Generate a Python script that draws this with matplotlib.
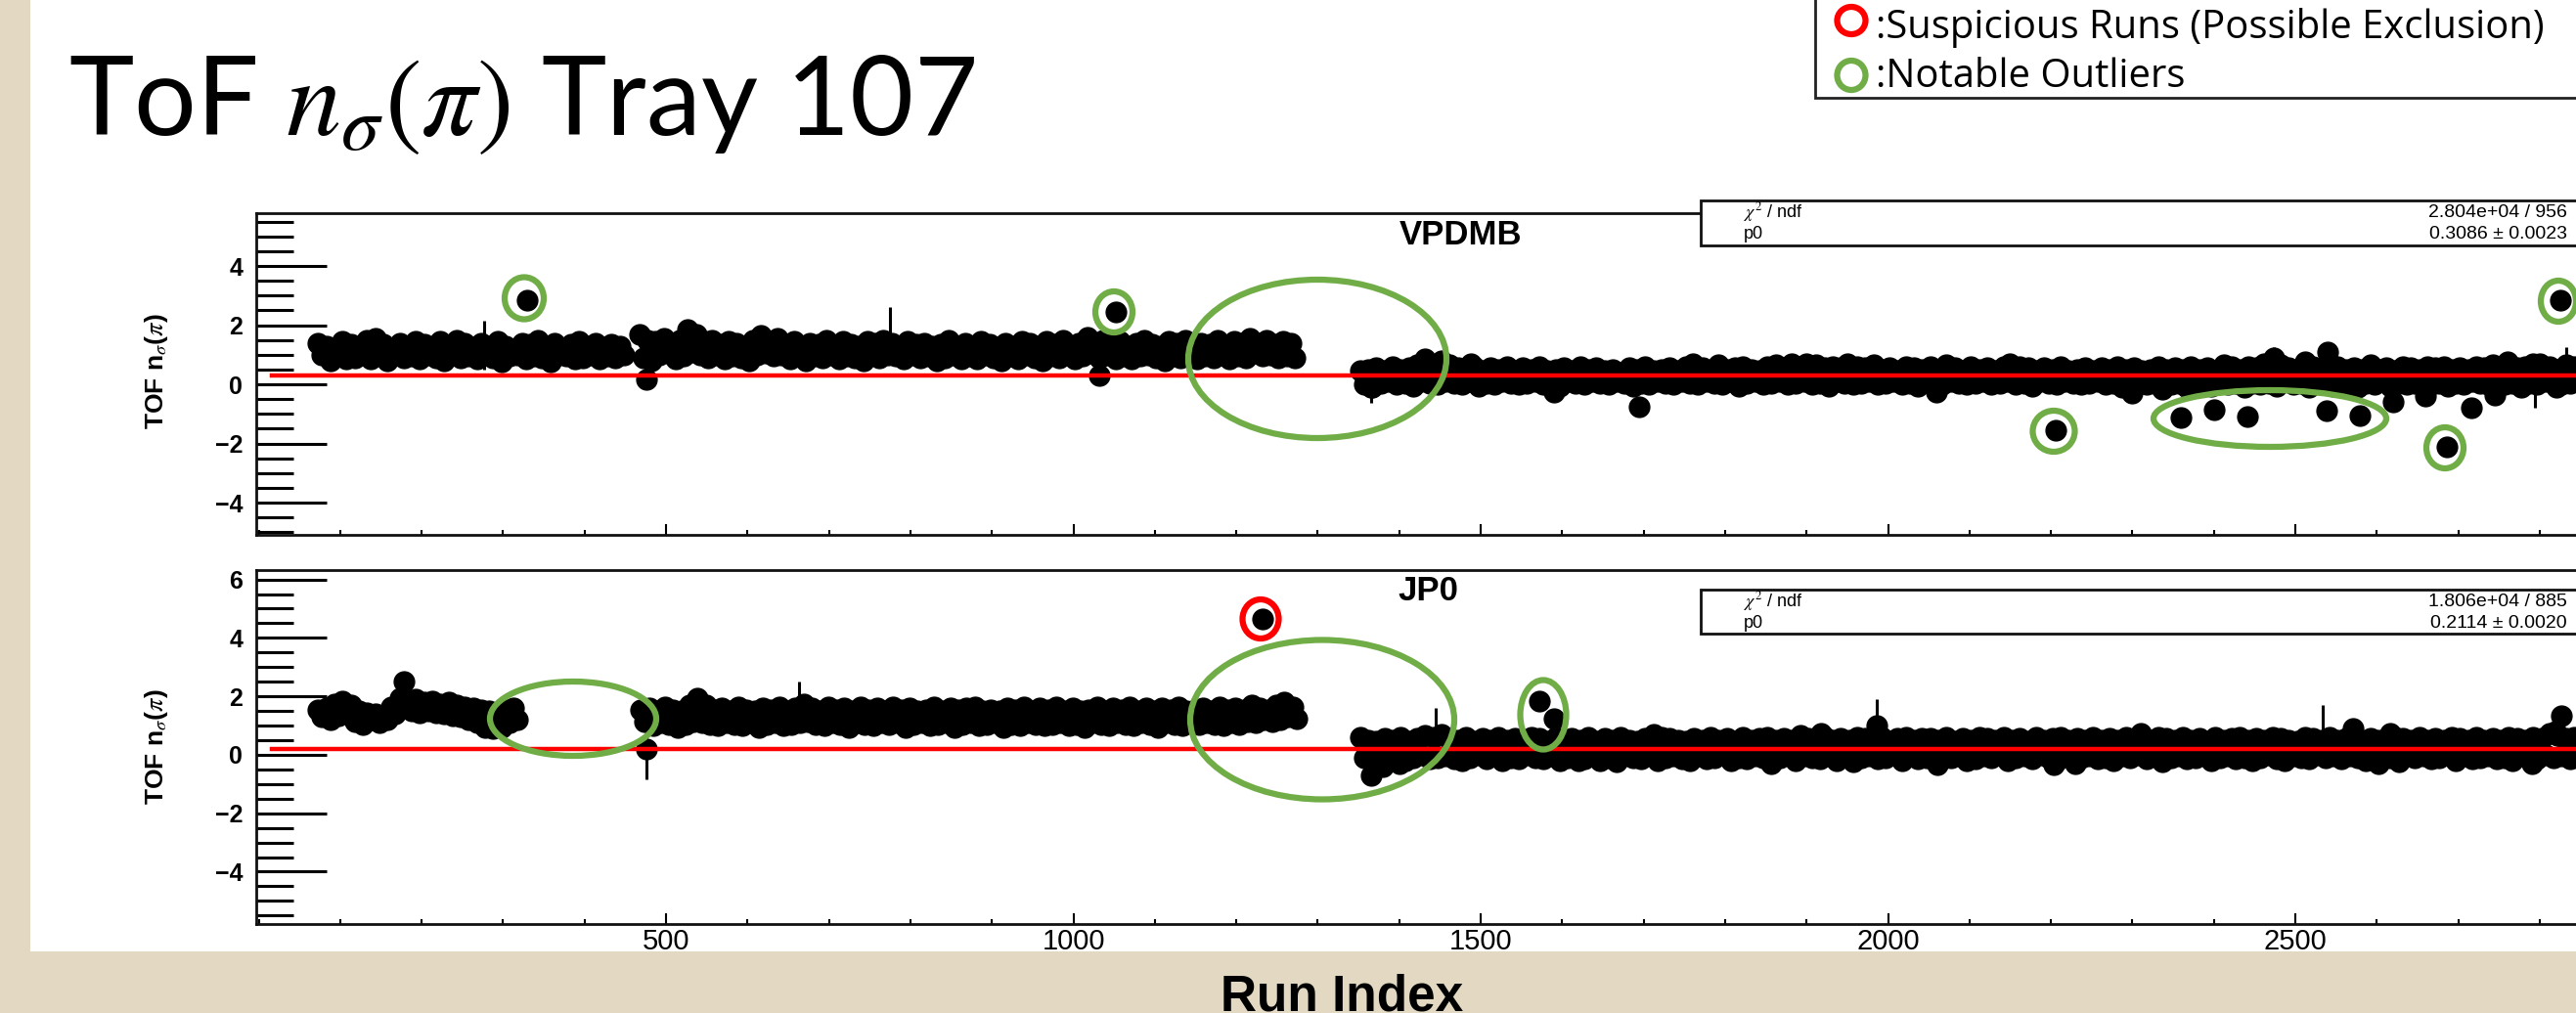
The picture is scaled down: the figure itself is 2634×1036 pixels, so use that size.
import numpy as np
import matplotlib
matplotlib.use("Agg")
import matplotlib.pyplot as plt
from matplotlib.patches import Ellipse, Rectangle
from matplotlib.ticker import MultipleLocator, FixedLocator

plt.rcParams['font.family'] = ['Liberation Sans', 'DejaVu Sans']

# ---------------- data ----------------
step = 10          # run-index spacing of the readings in each list
# Two readings per run bin: upper part ("hi") and lower part ("lo", offset half a bin) of the band
# VPDMB panel
top_seg1_start = 73
top_seg1_hi = [1.4, 1.3, 1.2, 1.45, 1.35, 1.25, 1.5, 1.55, 1.35, 1.2,
               1.4, 1.3, 1.45, 1.35, 1.25, 1.45, 1.3, 1.5, 1.4, 1.25,
               1.4, 1.3, 1.45, 1.3, 1.2, 1.4, 1.35, 1.5, 1.3, 1.4,
               1.2, 1.35, 1.45, 1.3, 1.4, 1.25, 1.35, 1.3]
top_seg1_lo = [1.0, 0.8, 0.95, 0.85, 0.9, 1.05, 0.85, 1.0, 0.8, 1.05,
               0.9, 0.95, 0.85, 1.0, 0.9, 0.8, 1.0, 0.9, 0.95, 0.85,
               1.0, 0.9, 0.75, 0.95, 1.0, 0.85, 0.95, 0.9, 0.75, 1.0,
               0.95, 0.85, 0.9, 1.0, 0.85, 0.95, 0.9, 1.0]
top_seg2_start = 467
top_seg2_hi = [1.7, 1.5, 1.45, 1.55, 1.4, 1.5, 1.85, 1.7, 1.45, 1.5,
               1.35, 1.45, 1.4, 1.3, 1.5, 1.65, 1.45, 1.55, 1.35, 1.45,
               1.3, 1.4, 1.35, 1.5, 1.3, 1.45, 1.35, 1.3, 1.45, 1.4,
               1.5, 1.4, 1.3, 1.45, 1.35, 1.4, 1.3, 1.35, 1.5, 1.3,
               1.4, 1.3, 1.45, 1.35, 1.25, 1.4, 1.3, 1.45, 1.4, 1.3,
               1.45, 1.35, 1.5, 1.3, 1.4, 1.6, 1.35, 1.5, 1.3, 1.45,
               1.3, 1.4, 1.5, 1.35, 1.3, 1.45, 1.4, 1.5, 1.3, 1.4,
               1.35, 1.5, 1.3, 1.45, 1.4, 1.55, 1.4, 1.5, 1.35, 1.45, 1.4]
top_seg2_lo = [0.9, 0.8, 1.0, 1.05, 0.85, 0.95, 1.1, 1.0, 0.9, 1.0,
               0.85, 0.95, 0.9, 0.8, 1.0, 1.05, 0.95, 1.0, 0.85, 0.95,
               0.8, 0.95, 0.9, 1.0, 0.85, 0.95, 0.9, 0.8, 1.0, 0.9,
               1.0, 0.95, 0.85, 1.0, 0.9, 0.95, 0.8, 0.9, 1.0, 0.85,
               0.95, 0.85, 1.0, 0.9, 0.8, 0.95, 0.85, 1.0, 0.9, 0.8,
               0.95, 0.9, 1.0, 0.85, 0.95, 1.05, 0.9, 1.0, 0.85, 0.95,
               0.85, 0.95, 1.0, 0.9, 0.8, 0.95, 0.9, 1.0, 0.85, 0.95,
               0.9, 1.0, 0.85, 0.95, 0.9, 1.05, 0.95, 1.0, 0.9, 0.95, 0.9]
top_seg3_start = 1352
top_seg3_hi = [0.45, 0.5, 0.55, 0.45, 0.6, 0.5, 0.55, 0.65, 0.75, 0.6,
               0.8, 0.65, 0.55, 0.5, 0.6, 0.45, 0.55, 0.5, 0.6, 0.45,
               0.55, 0.5, 0.6, 0.45, 0.5, 0.55, 0.45, 0.6, 0.5, 0.55,
               0.45, 0.5, 0.4, 0.55, 0.5, 0.6, 0.45, 0.5, 0.55, 0.45,
               0.6, 0.5, 0.55, 0.45, 0.65, 0.5, 0.55, 0.6, 0.5, 0.45,
               0.6, 0.65, 0.55, 0.7, 0.6, 0.5, 0.65, 0.55, 0.6, 0.55,
               0.5, 0.6, 0.55, 0.65, 0.5, 0.55, 0.45, 0.6, 0.55, 0.5,
               0.6, 0.5, 0.65, 0.55, 0.45, 0.6, 0.5, 0.55, 0.45, 0.6,
               0.5, 0.6, 0.55, 0.45, 0.55, 0.5, 0.6, 0.45, 0.5, 0.55,
               0.45, 0.55, 0.5, 0.6, 0.5, 0.55, 0.45, 0.5, 0.6, 0.5,
               0.55, 0.5, 0.6, 0.5, 0.55, 0.45, 0.65, 0.6, 0.5, 0.6,
               0.55, 0.7, 0.6, 0.65, 0.55, 0.5, 0.75, 0.6, 0.55, 0.65,
               0.6, 0.5, 0.55, 0.5, 0.65, 0.5, 0.55, 0.45, 0.6, 0.55,
               0.5, 0.6, 0.55, 0.6, 0.5, 0.55, 0.5, 0.6, 0.55, 0.65,
               0.6, 0.65, 0.55, 0.6, 0.7, 0.55, 0.6, 0.5, 0.65, 0.6]
top_seg3_lo = [0.0, -0.1, 0.05, 0.1, 0.0, 0.05, -0.05, 0.1, 0.05, 0.0,
               0.1, 0.05, 0.0, 0.1, -0.05, 0.05, 0.0, 0.1, 0.05, 0.0,
               0.05, 0.1, 0.0, 0.05, -0.05, 0.1, 0.05, 0.0, 0.1, 0.05,
               0.0, 0.1, 0.05, -0.05, 0.05, 0.0, 0.1, 0.05, 0.0, 0.1,
               0.05, 0.0, 0.1, 0.05, 0.0, 0.1, -0.05, 0.05, 0.1, 0.0,
               0.05, 0.1, 0.0, 0.05, 0.1, 0.0, 0.05, -0.05, 0.1, 0.05,
               0.0, 0.05, 0.1, 0.0, 0.05, 0.1, 0.0, 0.05, -0.05, 0.1,
               0.05, 0.0, 0.1, 0.05, 0.0, 0.05, 0.1, 0.0, 0.05, 0.1,
               0.0, 0.05, -0.05, 0.1, 0.05, 0.0, 0.1, 0.05, 0.0, 0.05,
               0.1, 0.0, 0.05, -0.1, 0.05, 0.1, 0.0, 0.05, -0.15, 0.0,
               0.05, -0.1, 0.0, 0.05, -0.05, 0.1, 0.0, 0.05, -0.1, 0.05,
               0.0, 0.05, -0.05, 0.1, 0.0, 0.05, -0.1, 0.05, 0.0, -0.05,
               0.05, 0.0, -0.1, 0.05, 0.0, 0.1, -0.05, 0.05, 0.0, 0.05,
               0.1, 0.0, 0.05, -0.05, 0.05, 0.0, 0.1, 0.05, 0.0, 0.05,
               0.0, 0.05, -0.1, 0.05, 0.0, 0.1, 0.05, 0.0, 0.05, 0.1]
# individual runs away from the band (outliers, dips and bumps)
top_extra_x = [329, 476, 1032, 1052, 1365, 1432, 1488, 1590, 1695, 1760,
               1900, 1950, 2060, 2150, 2206, 2300, 2359, 2400, 2441, 2474,
               2540, 2538, 2579, 2620, 2660, 2686, 2716, 2745, 2760, 2800,
               2821, 2825]
top_extra_y = [2.85, 0.15, 0.3, 2.45, -0.1, 0.85, 0.7, -0.25, -0.75, 0.7,
               0.7, 0.7, -0.25, 0.7, -1.55, -0.3, -1.12, -0.85, -1.1, 0.9,
               1.1, -0.9, -1.05, -0.6, -0.4, -2.1, -0.8, -0.35, 0.75, 0.7,
               -0.1, 2.85]
top_bar_x = [277, 775, 1365, 2474, 2794, 2832]
top_bar_lo = [0.5, 0.9, -0.63, 0.5, -0.8, 0.0]
top_bar_hi = [2.15, 2.6, 0.3, 1.25, 0.2, 1.25]
top_p0 = 0.3086

# JP0 panel
bot_seg1_start = 73
bot_seg1_hi = [1.55, 1.6, 1.75, 1.85, 1.7, 1.5, 1.45, 1.4, 1.35, 1.65,
               1.95, 1.85, 1.9, 1.8, 1.85, 1.75, 1.8, 1.7, 1.65, 1.6,
               1.55, 1.5, 1.45, 1.55, 1.6]
bot_seg1_lo = [1.3, 1.2, 1.35, 1.5, 1.15, 1.05, 1.2, 1.1, 1.2, 1.4,
               1.6, 1.5, 1.45, 1.5, 1.45, 1.4, 1.35, 1.3, 1.2, 1.1,
               0.95, 0.9, 0.95, 1.1, 1.2]
bot_seg2_start = 469
bot_seg2_hi = [1.55, 1.6, 1.5, 1.65, 1.55, 1.5, 1.7, 1.95, 1.7, 1.55,
               1.6, 1.5, 1.65, 1.55, 1.5, 1.6, 1.55, 1.65, 1.5, 1.6,
               1.75, 1.6, 1.5, 1.65, 1.55, 1.6, 1.5, 1.65, 1.55, 1.6,
               1.5, 1.65, 1.55, 1.6, 1.5, 1.55, 1.65, 1.5, 1.6, 1.55,
               1.6, 1.65, 1.5, 1.55, 1.5, 1.6, 1.55, 1.65, 1.5, 1.6,
               1.55, 1.65, 1.5, 1.6, 1.5, 1.55, 1.65, 1.5, 1.6, 1.55,
               1.65, 1.5, 1.6, 1.5, 1.6, 1.55, 1.65, 1.5, 1.55, 1.6,
               1.5, 1.65, 1.55, 1.6, 1.55, 1.7, 1.6, 1.55, 1.7, 1.8, 1.65]
bot_seg2_lo = [1.15, 1.0, 1.1, 1.05, 0.95, 1.05, 1.15, 1.1, 1.05, 1.0,
               1.1, 1.05, 1.0, 1.1, 0.95, 1.05, 1.1, 1.0, 1.05, 1.1,
               1.15, 1.05, 1.0, 1.1, 1.05, 0.95, 1.1, 1.05, 1.0, 1.1,
               1.05, 1.1, 0.95, 1.05, 1.1, 1.0, 1.05, 1.1, 0.95, 1.05,
               1.1, 1.0, 1.05, 1.1, 0.95, 1.05, 1.0, 1.1, 1.05, 1.0,
               1.05, 1.1, 1.0, 1.05, 0.95, 1.1, 1.05, 1.0, 1.1, 1.05,
               1.0, 1.1, 1.05, 0.95, 1.1, 1.05, 1.0, 1.1, 1.05, 1.1,
               1.05, 1.0, 1.1, 1.05, 1.15, 1.1, 1.2, 1.15, 1.2, 1.3, 1.25]
bot_seg3_start = 1352
bot_seg3_hi = [0.6, 0.5, 0.45, 0.55, 0.5, 0.6, 0.45, 0.55, 0.65, 0.6,
               0.7, 0.55, 0.5, 0.6, 0.45, 0.55, 0.5, 0.6, 0.5, 0.55,
               0.5, 0.6, 0.55, 0.45, 0.6, 0.5, 0.55, 0.5, 0.6, 0.45,
               0.55, 0.5, 0.6, 0.5, 0.45, 0.55, 0.5, 0.6, 0.55, 0.5,
               0.45, 0.55, 0.5, 0.6, 0.5, 0.55, 0.45, 0.6, 0.5, 0.55,
               0.6, 0.5, 0.55, 0.5, 0.65, 0.55, 0.5, 0.6, 0.5, 0.55,
               0.5, 0.6, 0.55, 0.5, 0.6, 0.45, 0.55, 0.6, 0.5, 0.55,
               0.55, 0.5, 0.6, 0.45, 0.55, 0.5, 0.6, 0.55, 0.5, 0.6,
               0.5, 0.55, 0.45, 0.6, 0.5, 0.55, 0.6, 0.5, 0.55, 0.5,
               0.6, 0.5, 0.55, 0.5, 0.6, 0.45, 0.55, 0.5, 0.6, 0.55,
               0.5, 0.6, 0.5, 0.55, 0.45, 0.6, 0.5, 0.55, 0.6, 0.5,
               0.55, 0.5, 0.6, 0.55, 0.5, 0.45, 0.6, 0.55, 0.5, 0.6,
               0.5, 0.55, 0.6, 0.5, 0.55, 0.5, 0.45, 0.6, 0.55, 0.5,
               0.6, 0.5, 0.55, 0.5, 0.6, 0.55, 0.5, 0.6, 0.5, 0.55,
               0.5, 0.6, 0.55, 0.5, 0.6, 0.55, 0.75, 0.65, 0.55, 0.6]
bot_seg3_lo = [-0.1, -0.2, 0.0, -0.15, -0.05, -0.2, -0.1, 0.0, -0.15, -0.1,
               -0.05, -0.15, -0.2, -0.1, 0.0, -0.15, -0.05, -0.2, -0.1, -0.15,
               0.0, -0.1, -0.15, -0.05, -0.2, -0.1, 0.0, -0.15, -0.05, -0.2,
               -0.1, -0.25, -0.05, -0.1, -0.15, 0.0, -0.2, -0.1, -0.05, -0.15,
               -0.2, -0.05, -0.15, -0.1, 0.0, -0.2, -0.1, -0.15, -0.05, -0.1,
               -0.15, -0.1, 0.0, -0.2, -0.05, -0.1, -0.15, -0.05, -0.2, 0.0,
               -0.25, -0.1, -0.05, -0.15, -0.1, 0.0, -0.2, -0.05, -0.15, -0.1,
               0.0, -0.15, -0.1, -0.05, -0.2, -0.15, -0.05, -0.1, 0.0, -0.2,
               -0.1, -0.05, -0.15, 0.0, -0.1, -0.2, -0.05, -0.15, -0.1, -0.05,
               -0.15, -0.1, -0.2, -0.05, -0.1, 0.0, -0.15, -0.05, -0.25, -0.1,
               -0.05, -0.15, -0.1, 0.0, -0.2, -0.1, -0.05, -0.15, -0.1, -0.2,
               -0.1, 0.0, -0.15, -0.2, -0.05, -0.1, -0.15, 0.0, -0.1, -0.05,
               -0.15, -0.05, -0.1, -0.2, 0.0, -0.15, -0.1, -0.25, -0.05, -0.1,
               -0.05, -0.15, -0.1, 0.0, -0.2, -0.05, -0.15, -0.1, -0.05, -0.15,
               -0.1, -0.2, -0.05, -0.1, -0.15, 0.0, -0.1, -0.05, -0.15, -0.1]
bot_extra_x = [178, 476, 1232, 1365, 1380, 1400, 1572, 1590, 1620, 1713,
               1857, 1918, 1986, 2061, 2203, 2230, 2310, 2571, 2602, 2617,
               2791, 2819, 2827]
bot_extra_y = [2.5, 0.2, 4.65, -0.7, -0.4, -0.3, 1.85, 1.25, -0.2, 0.7,
               -0.3, 0.75, 1.0, -0.35, -0.35, -0.3, 0.75, 0.9, -0.3, 0.75,
               -0.3, 0.8, 1.35]
bot_bar_x = [476, 663, 1445, 1986, 2534]
bot_bar_lo = [-0.85, 1.2, 0.5, 0.5, 0.3]
bot_bar_hi = [0.6, 2.5, 1.6, 1.9, 1.7]
bot_p0 = 0.2114

fit_xmin, fit_xmax = 16, 3000
x_major = [500, 1000, 1500, 2000, 2500]
x_major_labels = ['500', '1000', '1500', '2000', '2500']
top_yticks = [-4, -2, 0, 2, 4]
bot_yticks = [-4, -2, 0, 2, 4, 6]

stats_top = ['2.804e+04 / 956', '0.3086 \u00b1 0.0023']
stats_bot = ['1.806e+04 / 885', '0.2114 \u00b1 0.0020']
# --------------------------------------------------------------

W, H = 2634, 1036
fig = plt.figure(figsize=(W / 100, H / 100), dpi=100)
fig.patch.set_facecolor('white')


def fx(px):
    return px / W


def fy(py):
    return 1 - py / H


BEIGE = '#e3d8c1'
GREEN = '#70ad47'
fig.add_artist(Rectangle((0, 0), fx(31), 1, transform=fig.transFigure,
                         facecolor=BEIGE, edgecolor='none', zorder=0))
fig.add_artist(Rectangle((0, 0), 1, fy(973), transform=fig.transFigure,
                         facecolor=BEIGE, edgecolor='none', zorder=0))

X0_PX, PX_PER_RUN = 264.5, 0.833
AX_LEFT, AX_RIGHT = 262, 2720
xlo = (AX_LEFT - X0_PX) / PX_PER_RUN
xhi = (AX_RIGHT - X0_PX) / PX_PER_RUN
MS = 15


def make_panel(top_px, bot_px, ylim, segs, ex_x, ex_y, bx, blo, bhi, p0, yticks, show_xlabels):
    ax = fig.add_axes([fx(AX_LEFT), fy(bot_px), (AX_RIGHT - AX_LEFT) / W, (bot_px - top_px) / H])
    ax.set_facecolor('white')
    ax.set_xlim(xlo, xhi)
    ax.set_ylim(*ylim)
    for start, va, vb in segs:
        xa = start + step * np.arange(len(va))
        xb = start + step / 2 + step * np.arange(len(vb))
        ax.plot(xa, va, 'o', ms=MS, color='black', mec='black', ls='none', zorder=3)
        ax.plot(xb, vb, 'o', ms=MS, color='black', mec='black', ls='none', zorder=3)
    ax.plot(ex_x, ex_y, 'o', ms=MS, color='black', ls='none', zorder=3)
    ax.vlines(bx, blo, bhi, color='black', lw=2.2, zorder=3)
    ax.plot([fit_xmin, fit_xmax], [p0, p0], color='#ff0000', lw=3.2, zorder=4)
    for s in ax.spines.values():
        s.set_linewidth(2.0)
        s.set_color('#111111')
    ax.xaxis.set_major_locator(FixedLocator(x_major))
    ax.xaxis.set_minor_locator(MultipleLocator(100))
    ax.yaxis.set_major_locator(FixedLocator(yticks))
    ax.yaxis.set_minor_locator(MultipleLocator(0.5))
    ax.tick_params(axis='y', which='major', direction='in', length=52, width=2.2, pad=10)
    ax.tick_params(axis='y', which='minor', direction='in', length=27, width=2.2)
    ax.tick_params(axis='x', which='major', direction='in', length=8, width=1.5, pad=3)
    ax.tick_params(axis='x', which='minor', direction='in', length=3.5, width=1.5)
    ax.set_yticks(yticks)
    ax.set_yticklabels(['\u2212%d' % -t if t < 0 else '%d' % t for t in yticks],
                       fontsize=18, fontweight='bold')
    if show_xlabels:
        ax.set_xticks(x_major)
        ax.set_xticklabels(x_major_labels, fontsize=21)
    else:
        ax.set_xticklabels([])
    return ax


ax1 = make_panel(218, 547, (-5.09, 5.785),
                 [(top_seg1_start, top_seg1_hi, top_seg1_lo),
                  (top_seg2_start, top_seg2_hi, top_seg2_lo),
                  (top_seg3_start, top_seg3_hi, top_seg3_lo)],
                 top_extra_x, top_extra_y, top_bar_x, top_bar_lo, top_bar_hi, top_p0, top_yticks, False)
ax2 = make_panel(583, 945, (-5.79, 6.32),
                 [(bot_seg1_start, bot_seg1_hi, bot_seg1_lo),
                  (bot_seg2_start, bot_seg2_hi, bot_seg2_lo),
                  (bot_seg3_start, bot_seg3_hi, bot_seg3_lo)],
                 bot_extra_x, bot_extra_y, bot_bar_x, bot_bar_lo, bot_bar_hi, bot_p0, bot_yticks, True)

# y-axis titles
for cy in (380, 764):
    fig.text(fx(160), fy(cy), r'TOF n$_{\sigma}$($\pi$)', rotation=90, fontsize=19,
             fontweight='bold', ha='center', va='center', math_fontfamily='stix')

# panel titles
fig.text(fx(1494), fy(241), 'VPDMB', fontsize=25, fontweight='bold', ha='center', va='center')
fig.text(fx(1460), fy(605), 'JP0', fontsize=25, fontweight='bold', ha='center', va='center')

# stats boxes
for (btop, bbot, vals) in ((205, 251, stats_top), (603, 648, stats_bot)):
    fig.add_artist(Rectangle((fx(1739), fy(bbot)), fx(2750 - 1739), (bbot - btop) / H,
                             transform=fig.transFigure, facecolor='white',
                             edgecolor='#111111', lw=2.0, zorder=5))
    l1 = btop + 12
    l2 = btop + 34
    fig.text(fx(1783), fy(l1), r'$\chi^{2}$ / ndf', fontsize=13, ha='left', va='center', zorder=6,
             math_fontfamily='stix')
    fig.text(fx(1783), fy(l2), 'p0', fontsize=13, ha='left', va='center', zorder=6)
    fig.text(fx(2625), fy(l1), vals[0], fontsize=14, ha='right', va='center', zorder=6)
    fig.text(fx(2625), fy(l2), vals[1], fontsize=14, ha='right', va='center', zorder=6)

# x-axis title
fig.text(fx(1372), fy(1033), 'Run Index', fontsize=37, fontweight='bold', ha='center', va='baseline')

# slide title
fig.text(fx(70), fy(138), r'ToF $n_{\sigma}(\pi)$ Tray 107', fontsize=81, family='Lato',
         ha='left', va='baseline', math_fontfamily='stix')

# legend box
fig.add_artist(Rectangle((fx(1856), fy(100)), fx(2750 - 1856), fy(-10) - fy(100),
                         transform=fig.transFigure, facecolor='white', edgecolor='#222222',
                         lw=2.0, zorder=5))
fig.add_artist(Ellipse((fx(1893), fy(21)), fx(29), 28 / H, transform=fig.transFigure,
                       facecolor='none', edgecolor='#ff0000', lw=4.5, zorder=6))
fig.add_artist(Ellipse((fx(1893), fy(77)), fx(29), 30 / H, transform=fig.transFigure,
                       facecolor='none', edgecolor=GREEN, lw=4.5, zorder=6))
fig.text(fx(1918), fy(39), ':Suspicious Runs (Possible Exclusion)', fontsize=28.8, family='Open Sans',
         ha='left', va='baseline', zorder=6)
fig.text(fx(1918), fy(89), ':Notable Outliers', fontsize=28.8, family='Open Sans',
         ha='left', va='baseline', zorder=6)

# annotation rings (slide overlays, pixel geometry)
rings = [
    (536, 305, 40, 43, GREEN), (1139, 319, 38, 42, GREEN), (1347, 367, 264, 162, GREEN),
    (2100, 441, 43, 42, GREEN), (2321, 428, 238, 58, GREEN), (2500, 458, 38, 42, GREEN),
    (2616, 308, 36, 42, GREEN),
    (586, 735, 170, 76, GREEN), (1352, 736, 270, 163, GREEN), (1578, 731, 47, 71, GREEN),
    (1289, 633, 37, 40, '#ff0000'),
]
for cx, cy, w, h, c in rings:
    fig.add_artist(Ellipse((fx(cx), fy(cy)), fx(w), h / H, transform=fig.transFigure,
                           facecolor='none', edgecolor=c, lw=4.5, zorder=7))

fig.savefig('out.png', dpi=100)
